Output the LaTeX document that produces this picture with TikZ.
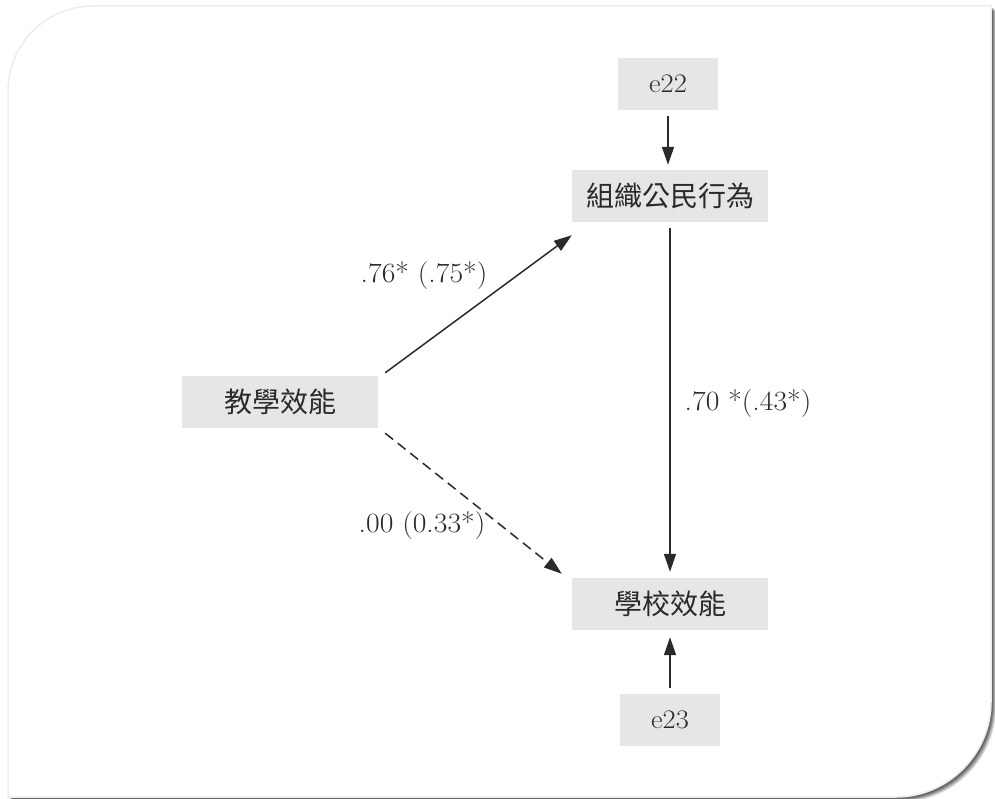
\documentclass[tikz,border=0pt]{standalone}
\usepackage{fontspec}
\usepackage{graphicx}
\newfontfamily\cjk{Noto Sans CJK TC}
\usetikzlibrary{arrows.meta}
\definecolor{boxgray}{HTML}{E6E6E7}
\definecolor{txt}{HTML}{2A2A2A}
\newcommand{\widetxt}[1]{\scalebox{1.12}[1.05]{#1}}
\tikzset{
  cjkbox/.style={fill=boxgray, minimum width=196pt, minimum height=52pt, inner sep=0pt,
    font=\cjk\fontsize{28}{28}\selectfont, text=txt},
  errbox/.style={fill=boxgray, minimum width=100pt, minimum height=52pt, inner sep=0pt,
    font=\fontsize{25.5}{25.5}\selectfont, text=txt},
  coef/.style={font=\fontsize{26.5}{26.5}\selectfont, text=txt, inner sep=0pt},
  path/.style={line width=1.5pt, draw=txt, -{Triangle[length=18pt,width=12pt]}},
  dpath/.style={path, dash pattern=on 10pt off 6pt},
}
\begin{document}
\begin{tikzpicture}[x=1pt,y=-1pt]
\useasboundingbox (0,0) rectangle (995,799);
\def\framepath{(8,797) -- (8,91) .. controls (8,44) and (46,6) .. (93,6) -- (991,6) -- (991,702) .. controls (991,754) and (948,797) .. (896,797) -- cycle}
% shadow
\foreach \s/\o in {5/0.14,4/0.18,3/0.22,2/0.25}{
  \fill[black, opacity=\o, xshift=\s pt, yshift=-\s pt] \framepath;
}
\fill[white] \framepath;
\draw[black!7, line width=1.5pt] \framepath;
% nodes
\node[errbox] (e22) at (668,84) {\widetxt{e22}};
\node[cjkbox] (ocb) at (670,196) {組織公民行為};
\node[cjkbox] (te) at (280,402) {教學效能};
\node[cjkbox] (se) at (670,604) {學校效能};
\node[errbox] (e23) at (670,720) {\widetxt{e23}};
% paths
\draw[path, shorten <=6pt, shorten >=5pt] (e22.south) -- (e22.south |- ocb.north);
\draw[path, shorten <=6pt, shorten >=6pt] (ocb.south) -- (se.north);
\draw[path, shorten <=6pt, shorten >=7pt] (e23.north) -- (se.south);
\draw[path] ([shift={(7,-3)}]te.north east) -- ([shift={(0,13)}]ocb.south west);
\draw[dpath] ([shift={(7,5)}]te.south east) -- ([shift={(-10,-4)}]se.north west);
% labels
\node[coef] (l1) at (424,276) {\widetxt{.76* (.75*)}};
\node[coef] (l2) at (422,526) {\widetxt{.00 (0.33*)}};
\node[coef] (l3) at (748,404) {\widetxt{.70 *(.43*)}};
\end{tikzpicture}
\end{document}
